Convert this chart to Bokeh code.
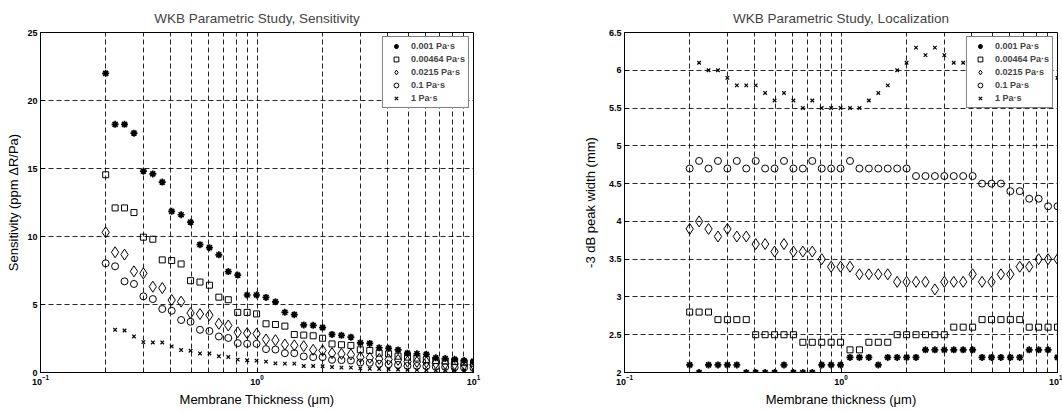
from bokeh.plotting import figure
from bokeh.layouts import row
from bokeh.models import FixedTicker, NumeralTickFormatter, Range1d
from bokeh.embed import file_html
from bokeh.resources import INLINE

nan = float("nan")

# Membrane thickness sample points (um)
thickness_um = [0.2000, 0.2211, 0.2444, 0.2702, 0.2987, 0.3302, 0.3651, 0.4036,
                0.4462, 0.4933, 0.5453, 0.6029, 0.6665, 0.7368, 0.8146, 0.9005,
                0.9955, 1.1006, 1.2167, 1.3450, 1.4870, 1.6439, 1.8173, 2.0090,
                2.2210, 2.4554, 2.7144, 3.0008, 3.3174, 3.6675, 4.0544, 4.4822,
                4.9551, 5.4780, 6.0560, 6.6949, 7.4013, 8.1822, 9.0456, 10.000]

viscosity_labels = ["0.001 Pa·s", "0.00464 Pa·s", "0.0215 Pa·s", "0.1 Pa·s", "1 Pa·s"]

# Sensitivity (ppm dR/Pa)
sens_0001 = [22.0, 18.25, 18.25, 17.6, 14.8, 14.6, 14.0, 11.85, 11.6, 11.05,
             9.4, 9.18, 8.65, 7.42, 7.16, 5.7, 5.7, 5.52, 5.2, 4.43,
             4.25, 3.5, 3.47, 3.3, 2.8, 2.73, 2.6, 2.18, 2.14, 1.82,
             1.78, 1.66, 1.42, 1.38, 1.34, 1.08, 1.03, 0.97, 0.88, 0.83]
sens_000464 = [14.54, 12.1, 12.1, 11.76, 9.95, 9.8, 8.28, 8.23, 7.98, 6.75,
               6.65, 6.42, 5.54, 5.35, 4.42, 4.42, 4.31, 3.58, 3.53, 3.41,
               2.79, 2.75, 2.7, 2.52, 2.1, 2.04, 1.99, 1.67, 1.62, 1.42,
               1.37, 1.2, 1.13, 1.06, 0.96, 0.88, 0.84, 0.8, 0.72, 0.68]
sens_00215 = [10.31, 8.84, 8.67, 7.44, 7.29, 6.31, 6.21, 5.33, 5.21, 4.37,
              4.3, 4.22, 3.58, 3.46, 2.96, 2.89, 2.85, 2.43, 2.38, 2.06,
              2.0, 1.94, 1.67, 1.62, 1.42, 1.37, 1.32, 1.13, 1.08, 1.0,
              0.96, 0.93, 0.8, 0.78, 0.76, 0.68, 0.65, 0.62, 0.58, 0.56]
sens_01 = [8.03, 7.81, 6.7, 6.51, 5.6, 5.4, 4.67, 4.54, 3.86, 3.73,
           3.14, 3.05, 2.65, 2.54, 2.16, 2.11, 2.11, 1.72, 1.69, 1.42,
           1.42, 1.18, 1.13, 1.13, 0.93, 0.91, 0.88, 0.74, 0.71, 0.64,
           0.61, 0.56, 0.49, 0.48, 0.46, 0.42, 0.4, 0.38, 0.36, 0.34]
sens_1 = [nan, 3.14, 3.09, 2.65, 2.23, 2.21, 2.21, 1.92, 1.65, 1.6,
          1.4, 1.4, 1.19, 1.14, 0.95, 0.9, 0.87, 0.8, 0.67, 0.65,
          0.65, 0.48, 0.48, 0.46, 0.4, 0.36, 0.36, 0.3, 0.28, 0.26,
          0.24, 0.22, 0.2, 0.19, 0.18, 0.16, 0.15, 0.14, 0.13, 0.12]

# -3 dB peak width (mm)
width_0001 = [2.1, 2.0, 2.1, 2.1, 2.1, 2.1, 2.0, 2.0, 2.0, 2.0,
              2.1, 2.0, 2.0, 2.0, 2.1, 2.1, 2.1, 2.2, 2.2, 2.2,
              2.1, 2.2, 2.2, 2.2, 2.2, 2.3, 2.3, 2.3, 2.3, 2.3,
              2.3, 2.2, 2.2, 2.2, 2.2, 2.2, 2.3, 2.3, 2.3, 2.2]
width_000464 = [2.8, 2.8, 2.8, 2.7, 2.7, 2.7, 2.7, 2.5, 2.5, 2.5,
                2.5, 2.5, 2.4, 2.4, 2.4, 2.4, 2.4, 2.3, 2.3, 2.4,
                2.4, 2.4, 2.5, 2.5, 2.5, 2.5, 2.5, 2.5, 2.6, 2.6,
                2.6, 2.7, 2.7, 2.7, 2.7, 2.7, 2.6, 2.6, 2.6, 2.6]
width_00215 = [3.9, 4.0, 3.9, 3.8, 3.9, 3.8, 3.8, 3.7, 3.7, 3.6,
               3.7, 3.6, 3.6, 3.6, 3.5, 3.4, 3.4, 3.4, 3.3, 3.3,
               3.3, 3.3, 3.2, 3.2, 3.2, 3.2, 3.1, 3.2, 3.2, 3.2,
               3.3, 3.2, 3.2, 3.3, 3.3, 3.4, 3.4, 3.5, 3.5, 3.5]
width_01 = [4.7, 4.8, 4.7, 4.8, 4.7, 4.8, 4.7, 4.8, 4.7, 4.7,
            4.8, 4.7, 4.7, 4.8, 4.7, 4.7, 4.7, 4.8, 4.7, 4.7,
            4.7, 4.7, 4.7, 4.7, 4.6, 4.6, 4.6, 4.6, 4.6, 4.6,
            4.6, 4.5, 4.5, 4.5, 4.4, 4.4, 4.3, 4.3, 4.2, 4.2]
width_1 = [nan, 6.1, 6.0, 6.0, 5.9, 5.8, 5.8, 5.8, 5.7, 5.6,
           5.7, 5.6, 5.5, 5.6, 5.5, 5.5, 5.5, 5.5, 5.5, 5.6,
           5.7, 5.8, 6.0, 6.1, 6.3, 6.2, 6.3, 6.2, 6.1, 6.1,
           6.1, 6.2, 6.1, 6.1, 6.0, 6.0, 6.0, 5.9, 5.9, 5.9]

x_major_ticks = [0.1, 1, 10]
x_grid_ticks = [0.2, 0.3, 0.4, 0.5, 0.6, 0.7, 0.8, 0.9, 1, 2, 3, 4, 5, 6, 7, 8, 9]
sens_ticks = [0, 5, 10, 15, 20, 25]
width_ticks = [2, 2.5, 3, 3.5, 4, 4.5, 5, 5.5, 6, 6.5]

FONT = "Liberation Sans"

marker_styles = [
    dict(marker="asterisk", size=7, line_width=1.7),
    dict(marker="square", size=6, line_width=1),
    dict(marker="diamond", size=11, line_width=1),
    dict(marker="circle", size=7, line_width=1),
    dict(marker="x", size=5, line_width=1.2),
]


def make_fig(title, xlabel, ylabel, yr, yticks, series, fig_w, mbl, mbr, ylab_standoff):
    p = figure(width=fig_w, height=411, x_axis_type="log",
               x_range=Range1d(0.1, 10), y_range=Range1d(*yr),
               output_backend="svg", toolbar_location=None,
               min_border_left=mbl, min_border_right=mbr,
               min_border_top=32, min_border_bottom=39,
               title=title, background_fill_color="white",
               border_fill_color="white")
    p.title.text_font = FONT
    p.title.text_font_size = "13.5px"
    p.title.text_font_style = "normal"
    p.title.align = "center"
    p.title.standoff = 13
    p.outline_line_color = "black"
    p.outline_line_width = 1
    p.outline_line_alpha = 1

    xa = p.xaxis[0]
    xa.ticker = FixedTicker(ticks=x_major_ticks, minor_ticks=x_grid_ticks)
    ya = p.yaxis[0]
    ya.ticker = FixedTicker(ticks=yticks)
    ya.formatter = NumeralTickFormatter(format="0.[0]")
    xa.axis_label = xlabel
    ya.axis_label = ylabel
    for ax in (xa, ya):
        ax.axis_line_color = "black"
        ax.major_tick_in = 4
        ax.major_tick_out = 0
        ax.minor_tick_in = 2
        ax.minor_tick_out = 0
        ax.major_tick_line_color = "black"
        ax.minor_tick_line_color = "black"
        ax.major_label_text_font = FONT
        ax.major_label_text_font_size = "9px"
        ax.major_label_text_font_style = "bold"
        ax.major_label_text_color = "black"
        ax.axis_label_text_font = FONT
        ax.axis_label_text_font_size = "13px"
        ax.axis_label_text_font_style = "normal"
        ax.axis_label_text_color = "black"
    ya.major_label_standoff = 3
    ya.axis_label_standoff = ylab_standoff
    xa.major_label_standoff = 2
    xa.axis_label_standoff = 4

    p.xgrid.ticker = FixedTicker(ticks=x_grid_ticks)
    p.ygrid.ticker = FixedTicker(ticks=yticks[1:-1])
    for g in (p.xgrid[0], p.ygrid[0]):
        g.grid_line_color = "black"
        g.grid_line_dash = "5 3"
        g.grid_line_width = 1
        g.grid_line_alpha = 0.85

    for lbl, ys, st in zip(viscosity_labels, series, marker_styles):
        p.scatter(thickness_um, ys, marker=st["marker"], size=st["size"],
                  line_color="black", line_width=st["line_width"],
                  fill_color=None, legend_label=lbl)

    lg = p.legend[0]
    lg.location = "top_right"
    lg.margin = 4
    lg.padding = 3
    lg.spacing = 1
    lg.glyph_width = 20
    lg.glyph_height = 12
    lg.label_height = 12
    lg.label_standoff = 5
    lg.label_text_font = FONT
    lg.label_text_font_size = "9px"
    lg.label_text_font_style = "bold"
    lg.label_text_baseline = "middle"
    lg.border_line_color = "black"
    lg.border_line_width = 1
    lg.background_fill_color = "white"
    lg.background_fill_alpha = 1
    return p


p1 = make_fig("WKB Parametric Study, Sensitivity", "Membrane Thickness (μm)",
              "Sensitivity (ppm ΔR/Pa)", (0, 25), sens_ticks,
              [sens_0001, sens_000464, sens_00215, sens_01, sens_1],
              513, 40, 40, 3)
p2 = make_fig("WKB Parametric Study, Localization", "Membrane thickness (μm)",
              "-3 dB peak width (mm)", (2, 6.5), width_ticks,
              [width_0001, width_000464, width_00215, width_01, width_1],
              549, 111, 5, 8)

layout = row(p1, p2)
open("out.html", "w").write(file_html(layout, INLINE))
